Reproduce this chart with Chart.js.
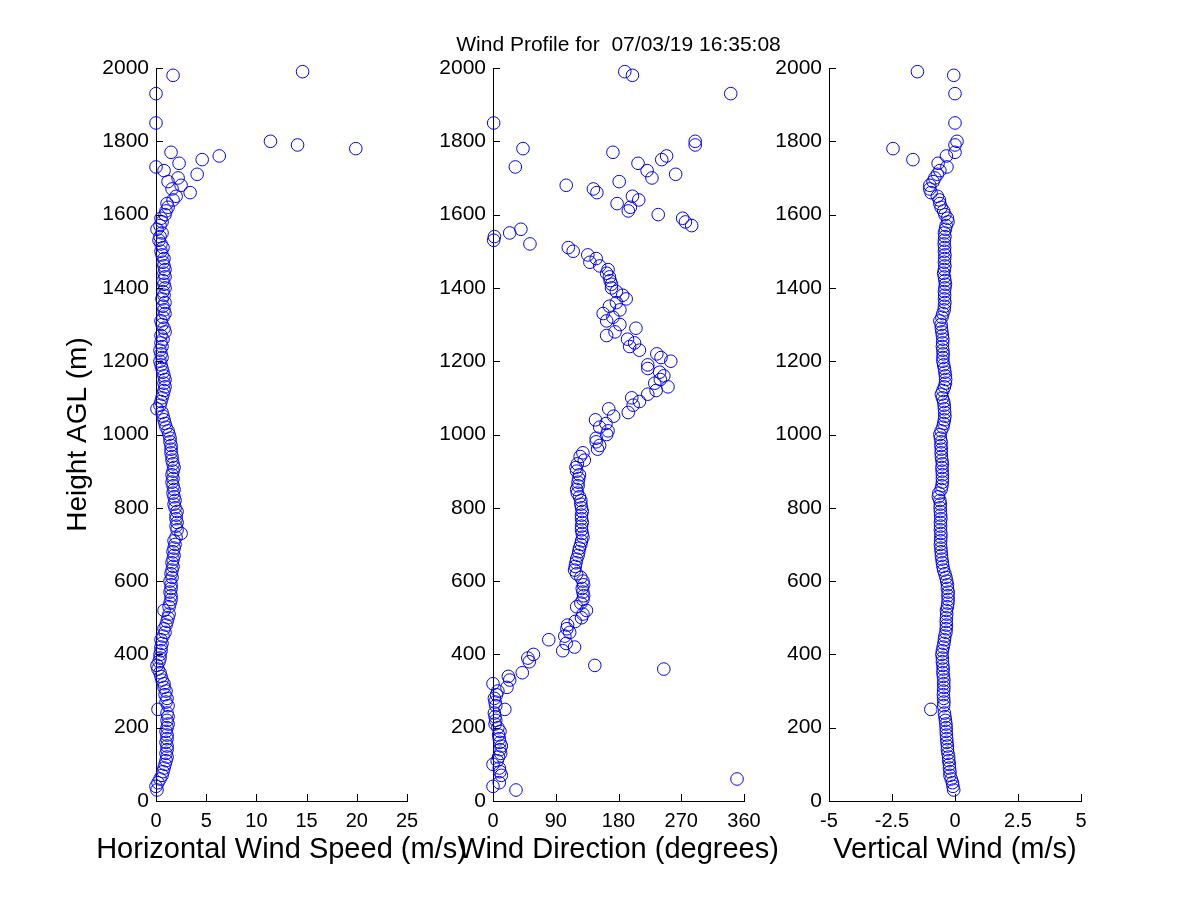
<!DOCTYPE html>
<html>
<head>
<meta charset="utf-8">
<script src="https://cdn.jsdelivr.net/npm/chart.js@4.4.1/dist/chart.umd.min.js"></script>
<style>
  html, body { margin: 0; padding: 0; background: #fff; }
  #wrap { position: relative; width: 1200px; height: 900px; }
  #wrap canvas { position: absolute; left: 0; top: 0; }
</style>
</head>
<body>
<div id="wrap">
  <canvas id="speedChart" width="1200" height="900"></canvas>
  <canvas id="dirChart" width="1200" height="900"></canvas>
  <canvas id="vertChart" width="1200" height="900"></canvas>
</div>
<script>
// gate heights (m AGL)
const heights = [
  30, 40, 50, 60, 70, 80, 90, 100, 110, 120,
  130, 140, 150, 160, 170, 180, 190, 200, 210, 220,
  230, 240, 250, 260, 270, 280, 290, 300, 310, 320,
  330, 340, 350, 360, 370, 380, 390, 400, 410, 420,
  430, 440, 450, 460, 470, 480, 490, 500, 510, 520,
  530, 540, 550, 560, 570, 580, 590, 600, 610, 620,
  630, 640, 650, 660, 670, 680, 690, 700, 710, 720,
  730, 740, 750, 760, 770, 780, 790, 800, 810, 820,
  830, 840, 850, 860, 870, 880, 890, 900, 910, 920,
  930, 940, 950, 960, 970, 980, 990, 1000, 1010, 1020,
  1030, 1040, 1050, 1060, 1070, 1080, 1090, 1100, 1110, 1120,
  1130, 1140, 1150, 1160, 1170, 1180, 1190, 1200, 1210, 1220,
  1230, 1240, 1250, 1260, 1270, 1280, 1290, 1300, 1310, 1320,
  1330, 1340, 1350, 1360, 1370, 1380, 1390, 1400, 1410, 1420,
  1430, 1440, 1450, 1460, 1470, 1480, 1490, 1500, 1510, 1520,
  1530, 1540, 1550, 1560, 1570, 1580, 1590, 1600, 1610, 1620,
  1630, 1640, 1650, 1660, 1670, 1680, 1690, 1700, 1710, 1720,
  1730, 1740, 1750, 1760, 1770, 1780, 1790, 1800,
  1850, 1930, 1980, 1990
];

// horizontal wind speed (m/s)
const speed = [
  0.1, 0.0, 0.2, 0.4, 0.6, 0.7, 0.8, 0.9, 1.0, 1.1,
  1.0, 1.1, 1.1, 1.0, 1.1, 1.1, 1.0, 1.1, 1.2, 1.1,
  1.2, 1.1, 0.2, 1.2, 1.0, 1.1, 0.9, 1.0, 0.8, 0.8,
  0.6, 0.5, 0.4, 0.2, 0.1, 0.3, 0.4, 0.4, 0.5, 0.5,
  0.6, 0.5, 0.7, 0.9, 0.8, 1.0, 1.1, 1.2, 1.3, 0.8,
  1.3, 1.4, 1.5, 1.5, 1.4, 1.5, 1.5, 1.4, 1.6, 1.5,
  1.6, 1.7, 1.6, 1.7, 1.8, 1.7, 1.8, 1.9, 1.8, 2.0,
  2.5, 2.1, 2.0, 2.1, 2.0, 2.0, 2.1, 1.9, 1.8, 1.9,
  1.8, 1.7, 1.8, 1.7, 1.6, 1.7, 1.6, 1.7, 1.8, 1.7,
  1.6, 1.6, 1.5, 1.5, 1.5, 1.4, 1.4, 1.3, 1.2, 1.0,
  0.9, 0.8, 0.7, 0.6, 0.1, 0.4, 0.5, 0.6, 0.7, 0.8,
  0.9, 0.8, 0.9, 0.8, 0.7, 0.6, 0.5, 0.4, 0.6, 0.5,
  0.4, 0.6, 0.5, 0.7, 0.5, 0.9, 0.8, 0.6, 0.5, 0.7,
  0.9, 0.8, 0.7, 0.9, 0.6, 0.8, 0.7, 0.9, 0.8, 0.7,
  0.9, 0.8, 0.9, 0.8, 0.7, 0.8, 0.6, 0.5, 0.7, 0.5,
  0.3, 0.4, 0.6, 0.1, 0.4, 0.6, 0.5, 0.9, 1.0, 1.2,
  1.1, 1.7, 2.0, 3.4, 1.6, 2.5, 1.2, 2.2, 4.1, 0.8,
  0.0, 2.3, 4.6, 6.3, 1.5, 19.9, 14.1, 11.4,
  0.0, 0.0, 1.7, 14.6
];

// wind direction (degrees)
const direction = [
  33, 0, 9, 350, 12, 10, 9, 0, 6, 8,
  11, 10, 12, 10, 9, 8, 10, 7, 3, 4,
  3, 2, 17, 4, 3, 2, 5, 7, 20, 0,
  24, 22, 42, 245, 146, 52, 50, 58, 100, 117,
  105, 80, 103, 110, 106, 107, 118, 127, 129, 134,
  120, 126, 129, 130, 129, 128, 130, 129, 126, 120,
  117, 118, 119, 120, 122, 123, 124, 126, 127, 129,
  128, 127, 127, 128, 127, 127, 128, 127, 126, 126,
  124, 121, 120, 122, 122, 123, 124, 120, 119, 121,
  131, 125, 129, 150, 153, 148, 148, 163, 165, 153,
  162, 147, 173, 194, 166, 201, 210, 199, 222, 234,
  251, 232, 240, 245, 239, 222, 222, 255, 241, 235,
  210, 196, 203, 193, 163, 175, 205, 182, 163, 172,
  158, 182, 167, 177, 191, 186, 177, 170, 170, 168,
  167, 163, 165, 153, 139, 148, 136, 115, 108, 53,
  1, 2, 24, 40, 285, 276, 272, 237, 194, 197,
  178, 209, 200, 149, 144, 105, 181, 228, 262, 221,
  32, 208, 242, 249, 172, 43, 290, 290,
  1, 341, 200, 189
];

// vertical wind (m/s)
const vertical = [
  -0.05, -0.08, -0.1, -0.15, -0.2, -0.2, -0.22, -0.22, -0.25, -0.25,
  -0.28, -0.3, -0.3, -0.32, -0.33, -0.34, -0.35, -0.35, -0.36, -0.38,
  -0.4, -0.42, -0.96, -0.45, -0.44, -0.45, -0.46, -0.45, -0.44, -0.45,
  -0.44, -0.46, -0.48, -0.47, -0.48, -0.5, -0.5, -0.52, -0.5, -0.47,
  -0.44, -0.42, -0.4, -0.36, -0.35, -0.34, -0.35, -0.34, -0.33, -0.34,
  -0.3, -0.28, -0.27, -0.28, -0.27, -0.3, -0.3, -0.33, -0.36, -0.4,
  -0.45, -0.48, -0.5, -0.52, -0.54, -0.55, -0.56, -0.58, -0.57, -0.56,
  -0.56, -0.58, -0.57, -0.58, -0.56, -0.57, -0.58, -0.59, -0.58, -0.6,
  -0.66, -0.64, -0.55, -0.52, -0.5, -0.5, -0.5, -0.51, -0.52, -0.5,
  -0.52, -0.54, -0.55, -0.54, -0.56, -0.55, -0.58, -0.6, -0.55, -0.48,
  -0.45, -0.42, -0.4, -0.41, -0.42, -0.43, -0.45, -0.5, -0.54, -0.48,
  -0.42, -0.38, -0.37, -0.38, -0.4, -0.42, -0.45, -0.48, -0.48, -0.47,
  -0.48, -0.5, -0.49, -0.48, -0.5, -0.52, -0.54, -0.55, -0.6, -0.52,
  -0.48, -0.43, -0.42, -0.4, -0.42, -0.41, -0.42, -0.4, -0.38, -0.4,
  -0.42, -0.45, -0.42, -0.4, -0.42, -0.41, -0.4, -0.42, -0.41, -0.43,
  -0.42, -0.4, -0.42, -0.38, -0.35, -0.28, -0.3, -0.4, -0.45, -0.55,
  -0.6, -0.62, -0.7, -0.95, -1.0, -1.0, -0.87, -0.8, -0.7, -0.6,
  -0.32, -0.67, -1.67, -0.34, 0.0, -2.46, 0.0, 0.08,
  0.0, 0.0, -0.05, -1.49
];

// tick labels
const heightTicks = [0, 200, 400, 600, 800, 1000, 1200, 1400, 1600, 1800, 2000];
const speedTicks = [0, 5, 10, 15, 20, 25];
const dirTicks = [0, 90, 180, 270, 360];
const vertTicks = [-5, -2.5, 0, 2.5, 5];

const FONT = '"Liberation Sans", Arial, Helvetica, sans-serif';
const TITLE = 'Wind Profile for  07/03/19 16:35:08';

// MATLAB-style ticks that point into the plot
const inwardTicks = {
  id: 'inwardTicks',
  afterDraw(chart) {
    const { ctx, chartArea: a, scales: { x, y } } = chart;
    ctx.save();
    ctx.strokeStyle = '#000';
    ctx.lineWidth = 1;
    ctx.beginPath();
    x.ticks.forEach(t => {
      const px = Math.round(x.getPixelForValue(t.value)) + 0.5;
      ctx.moveTo(px, a.bottom);
      ctx.lineTo(px, a.bottom - 7);
    });
    y.ticks.forEach(t => {
      const py = Math.round(y.getPixelForValue(t.value)) + 0.5;
      ctx.moveTo(a.left, py);
      ctx.lineTo(a.left + 7, py);
    });
    ctx.stroke();
    ctx.restore();
  }
};

// figure title and x labels, drawn without the scale's width limit
const panelText = {
  id: 'panelText',
  afterDraw(chart, args, opts) {
    const { ctx, chartArea: a } = chart;
    const cx = (a.left + a.right) / 2;
    ctx.save();
    ctx.fillStyle = '#000';
    ctx.textAlign = 'center';
    ctx.textBaseline = 'middle';
    if (opts.xLabel) {
      ctx.font = '29px ' + FONT;
      ctx.fillText(opts.xLabel, cx, 850);
    }
    if (opts.title) {
      ctx.font = '21px ' + FONT;
      ctx.fillText(opts.title, cx, 45);
    }
    ctx.restore();
  }
};

function makePanel(id, xs, xMin, xMax, xTicks, xTitle, yTitle, padL, yWidth, padR, title) {
  const points = heights.map((h, i) => ({ x: xs[i], y: h }));
  return new Chart(document.getElementById(id), {
    type: 'scatter',
    data: {
      datasets: [{
        data: points,
        clip: 10,
        pointStyle: 'circle',
        pointRadius: 6.3,
        pointBorderWidth: 1,
        pointBorderColor: '#0000ff',
        pointBackgroundColor: 'rgba(0,0,0,0)',
        pointHoverRadius: 6.3
      }]
    },
    options: {
      responsive: false,
      animation: false,
      devicePixelRatio: 1,
      events: [],
      layout: { padding: { left: padL, right: padR, top: 68, bottom: 34 } },
      plugins: {
        legend: { display: false },
        tooltip: { enabled: false },
        panelText: { xLabel: xTitle, title: title }
      },
      scales: {
        x: {
          type: 'linear',
          min: xMin,
          max: xMax,
          afterBuildTicks: s => { s.ticks = xTicks.map(v => ({ value: v })); },
          afterFit: s => { s.height = 65; },
          grid: { display: false, drawTicks: false },
          border: { display: true, color: '#000', width: 1 },
          ticks: {
            padding: 8,
            color: '#000',
            font: { family: FONT, size: 20 },
            maxRotation: 0,
            autoSkip: false,
            callback: v => String(v)
          }
        },
        y: {
          type: 'linear',
          min: 0,
          max: 2000,
          afterBuildTicks: s => { s.ticks = heightTicks.map(v => ({ value: v })); },
          afterFit: s => { s.width = yWidth; },
          grid: { display: false, drawTicks: false },
          border: { display: true, color: '#000', width: 1 },
          ticks: {
            padding: 7,
            color: '#000',
            font: { family: FONT, size: 21 },
            autoSkip: false,
            callback: v => String(v)
          },
          title: {
            display: !!yTitle,
            text: yTitle || '',
            color: '#000',
            padding: 0,
            font: { family: FONT, size: 28, lineHeight: 1.2 }
          }
        }
      }
    },
    plugins: [inwardTicks, panelText]
  });
}

makePanel('speedChart', speed, 0, 25, speedTicks, 'Horizontal Wind Speed (m/s)', 'Height AGL (m)', 61, 95, 793, '');
makePanel('dirChart', direction, 0, 360, dirTicks, 'Wind Direction (degrees)', '', 433, 60, 456, TITLE);
makePanel('vertChart', vertical, -5, 5, vertTicks, 'Vertical Wind (m/s)', '', 769, 60, 119, '');
</script>
</body>
</html>
